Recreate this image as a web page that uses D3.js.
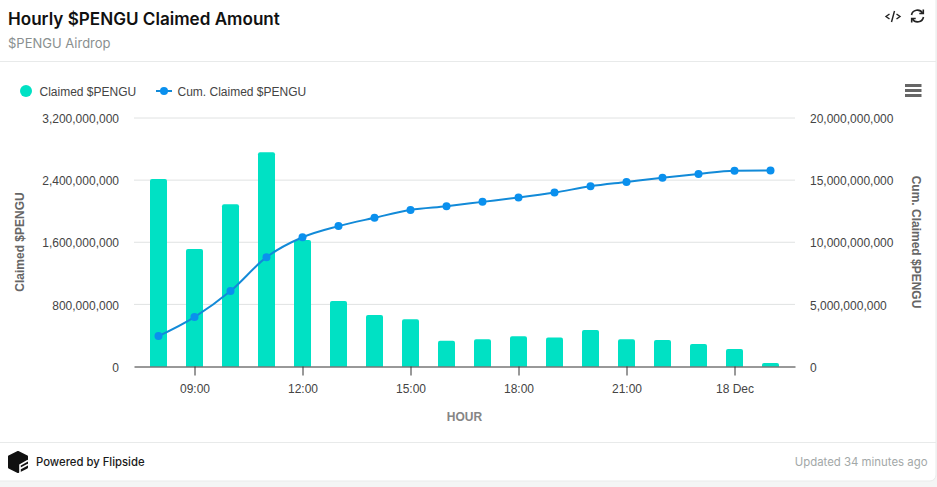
<!DOCTYPE html>
<html>
<head>
<meta charset="utf-8">
<script src="https://cdn.jsdelivr.net/npm/d3@7"></script>
<style>
html, body { margin: 0; padding: 0; background: #f4f5f5; overflow: hidden; }
text { font-family: "Liberation Sans", Arial, sans-serif; }
.head { font-family: Inter, sans-serif; }
.axis text { font-size: 12px; fill: #444; }
</style>
</head>
<body>
<div id="chart"></div>
<script>
// hours since 00:00 on 17 Dec
var hours = [8, 9, 10, 11, 12, 13, 14, 15, 16, 17, 18, 19, 20, 21, 22, 23, 24, 25];
var claimed = [2414e6, 1513e6, 2090e6, 2760e6, 1630e6, 843e6, 663e6, 610e6, 330e6, 350e6, 390e6, 375e6, 470e6, 350e6, 340e6, 290e6, 225e6, 45e6];
var cumulative = [2.45e9, 3.98e9, 6.07e9, 8.8e9, 10.4e9, 11.3e9, 11.97e9, 12.6e9, 12.9e9, 13.25e9, 13.6e9, 14.0e9, 14.5e9, 14.85e9, 15.2e9, 15.5e9, 15.75e9, 15.77e9];
var leftTicks = [0, 8e8, 16e8, 24e8, 32e8];
var rightTicks = [0, 5e9, 10e9, 15e9, 20e9];
var xTicks = [9, 12, 15, 18, 21, 24];
var xTickLabels = ["09:00", "12:00", "15:00", "18:00", "21:00", "18 Dec"];

var svgWidth = 937;
var svgHeight = 487;
var margin = { top: 118, right: 142, bottom: 120.5, left: 134 };
var width = svgWidth - margin.left - margin.right;
var height = svgHeight - margin.top - margin.bottom;

var svg = d3.select("#chart").append("svg")
    .attr("width", svgWidth)
    .attr("height", svgHeight)
    .style("display", "block");

//card
svg.append("rect").attr("x", -6).attr("y", -6).attr("width", 942).attr("height", 487)
    .attr("rx", 6).attr("fill", "#fff").attr("stroke", "#e9ebeb");
svg.append("line").attr("x1", 0).attr("x2", 936).attr("y1", 61.5).attr("y2", 61.5).attr("stroke", "#e8eaea");
svg.append("line").attr("x1", 0).attr("x2", 936).attr("y1", 442.5).attr("y2", 442.5).attr("stroke", "#e8eaea");

//header
svg.append("text").attr("class", "head").attr("x", 8).attr("y", 25)
    .attr("font-size", 17.1).attr("font-weight", 600).attr("fill", "#111")
    .text("Hourly $PENGU Claimed Amount");
svg.append("text").attr("class", "head").attr("x", 8).attr("y", 48)
    .attr("font-size", 13).attr("fill", "#8a8f8f")
    .text("$PENGU Airdrop");

//top right icons
var code = svg.append("g").attr("transform", "translate(893, 16.5)")
    .attr("fill", "none").attr("stroke", "#222").attr("stroke-width", 1.4);
code.append("path").attr("d", "M-3.5 -2.5 L-7 0 L-3.5 2.5");
code.append("path").attr("d", "M3.5 -2.5 L7 0 L3.5 2.5");
code.append("path").attr("d", "M1.5 -5.5 L-1.5 5.5");
var refresh = svg.append("g").attr("transform", "translate(917.5, 16)")
    .attr("fill", "none").attr("stroke", "#222").attr("stroke-width", 1.6);
refresh.append("path").attr("d", "M-6 -1 A6 6 0 0 1 5 -3");
refresh.append("path").attr("d", "M6 1 A6 6 0 0 1 -5 3");
refresh.append("path").attr("d", "M5.8 -6.5 V-2.5 H1.8");
refresh.append("path").attr("d", "M-5.8 6.5 V2.5 H-1.8");

//legend
svg.append("circle").attr("cx", 26).attr("cy", 91).attr("r", 6).attr("fill", "#00e1c4");
svg.append("text").attr("x", 39.5).attr("y", 96).attr("font-size", 12).attr("fill", "#444").text("Claimed $PENGU");
svg.append("line").attr("x1", 156).attr("x2", 172).attr("y1", 91).attr("y2", 91).attr("stroke", "#128ad8").attr("stroke-width", 2);
svg.append("circle").attr("cx", 164).attr("cy", 91).attr("r", 4).attr("fill", "#0a90ee");
svg.append("text").attr("x", 177.5).attr("y", 96).attr("font-size", 12).attr("fill", "#444").text("Cum. Claimed $PENGU");

//menu icon
svg.append("g").selectAll("rect").data([0, 1, 2]).enter().append("rect")
    .attr("x", 905).attr("y", i => 84 + i * 5)
    .attr("width", 16.5).attr("height", 3).attr("fill", "#666");

var chartGroup = svg.append("g")
    .attr("transform", `translate(${margin.left}, ${margin.top})`);

var xScale = d3.scaleLinear()
    .domain([9 - 60.5 / 36, 9 + (width - 60.5) / 36])
    .range([0, width]);
var yLeft = d3.scaleLinear().domain([0, 32e8]).range([height, 0]);
var yRight = d3.scaleLinear().domain([0, 20e9]).range([height, 0]);

//gridlines
chartGroup.selectAll(".grid").data(leftTicks.slice(1)).enter().append("line")
    .attr("class", "grid")
    .attr("x1", 0).attr("x2", width)
    .attr("y1", d => yLeft(d)).attr("y2", d => yLeft(d))
    .attr("stroke", "#e0e2e2");

//bars, rounded on top only
var barWidth = 17;
var radius = 2;
chartGroup.selectAll(".bar").data(claimed).enter().append("path")
    .attr("class", "bar")
    .attr("fill", "#00e1c4")
    .attr("d", (d, i) => {
        var x0 = xScale(hours[i]) - barWidth / 2;
        var x1 = x0 + barWidth;
        var y0 = yLeft(d);
        return `M${x0} ${height} V${y0 + radius} Q${x0} ${y0} ${x0 + radius} ${y0} H${x1 - radius} Q${x1} ${y0} ${x1} ${y0 + radius} V${height} Z`;
    });

//axes
chartGroup.append("g").attr("class", "axis")
    .call(d3.axisLeft(yLeft).tickValues(leftTicks).tickSize(0).tickPadding(15).tickFormat(d3.format(",")))
    .call(g => g.select(".domain").remove())
    .call(g => g.selectAll("text").attr("y", 0.8));
chartGroup.append("g").attr("class", "axis")
    .attr("transform", `translate(${width}, 0)`)
    .call(d3.axisRight(yRight).tickValues(rightTicks).tickSize(0).tickPadding(15).tickFormat(d3.format(",")))
    .call(g => g.select(".domain").remove())
    .call(g => g.selectAll("text").attr("y", 0.8));
var xAxis = chartGroup.append("g").attr("class", "axis")
    .attr("transform", `translate(0, ${height})`)
    .call(d3.axisBottom(xScale).tickValues(xTicks).tickSize(9).tickPadding(9).tickSizeOuter(0)
        .tickFormat((d, i) => xTickLabels[i]));
xAxis.selectAll("line, .domain").attr("stroke", "#333");

//cumulative line
var line = d3.line()
    .x((d, i) => xScale(hours[i]))
    .y(d => yRight(d))
    .curve(d3.curveMonotoneX);
chartGroup.append("path").datum(cumulative)
    .attr("fill", "none").attr("stroke", "#128ad8").attr("stroke-width", 2)
    .attr("d", line);
chartGroup.selectAll(".pt").data(cumulative).enter().append("circle")
    .attr("class", "pt")
    .attr("cx", (d, i) => xScale(hours[i]))
    .attr("cy", d => yRight(d))
    .attr("r", 4)
    .attr("fill", "#0a90ee");

//axis titles
svg.append("text").attr("transform", "translate(24, 242) rotate(-90)")
    .attr("text-anchor", "middle").attr("font-size", 12).attr("font-weight", 700).attr("fill", "#666")
    .text("Claimed $PENGU");
svg.append("text").attr("transform", "translate(912, 242) rotate(90)")
    .attr("text-anchor", "middle").attr("font-size", 12).attr("font-weight", 700).attr("fill", "#666")
    .text("Cum. Claimed $PENGU");
svg.append("text").attr("x", 464.5).attr("y", 421)
    .attr("text-anchor", "middle").attr("font-size", 12).attr("font-weight", 700).attr("fill", "#858585")
    .text("HOUR");

//footer
var logo = svg.append("g").attr("transform", "translate(18, 462)");
logo.append("path").attr("fill", "#111").attr("stroke", "#111").attr("stroke-width", 2).attr("stroke-linejoin", "round")
    .attr("d", "M0 -10 L9 -5.5 V5.5 L0 10 L-9 5.5 V-5.5 Z");
logo.append("path").attr("fill", "none").attr("stroke", "#fff").attr("stroke-width", 1.6)
    .attr("d", "M2 11 V3 L10 -1.5 M2.5 6.5 L10 2.5");
svg.append("text").attr("class", "head").attr("x", 36).attr("y", 466)
    .attr("font-size", 11.3).attr("font-weight", 500).attr("fill", "#1a1a1a")
    .text("Powered by Flipside");
svg.append("text").attr("class", "head").attr("x", 927.5).attr("y", 466)
    .attr("text-anchor", "end").attr("font-size", 11.4).attr("fill", "#a3a8a8")
    .text("Updated 34 minutes ago");
</script>
</body>
</html>
